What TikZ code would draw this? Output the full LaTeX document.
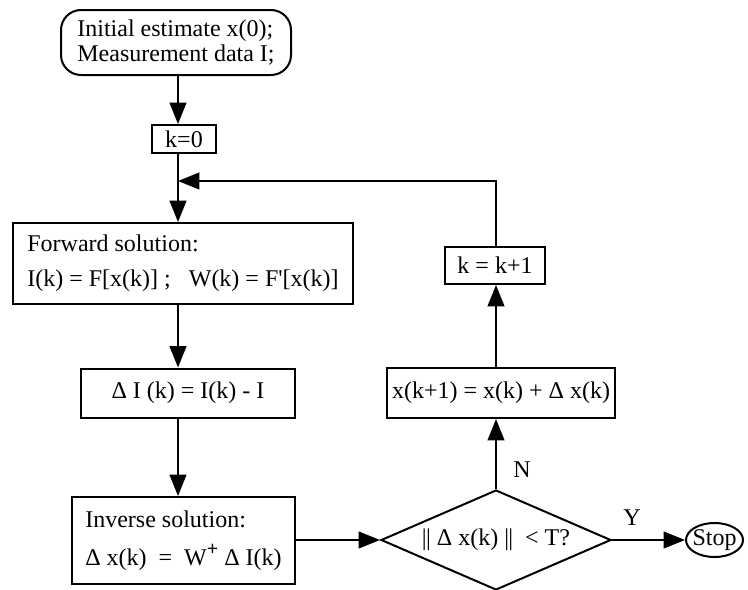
\documentclass[tikz,border=0pt]{standalone}
\usepackage{fontspec}
\setmainfont{Liberation Serif}
\usetikzlibrary{shapes.geometric,arrows.meta}
\begin{document}
\begin{tikzpicture}[x=0.75pt,y=-0.75pt,
  txt/.style={font=\fontsize{18}{18.75}\selectfont},
  box/.style={draw, line width=1.5pt, inner sep=0pt, align=left, txt},
  arr/.style={line width=1.5pt, -{Triangle[length=16pt,width=12.5pt]}},
  ln/.style={line width=1.5pt},
  lbl/.style={txt, inner sep=0pt}]
\useasboundingbox (0,0) rectangle (748,589);
\coordinate (colx) at (178,0);
\coordinate (lp) at (496,181);
\node[box, rounded corners=15pt, minimum width=172.5pt, minimum height=48.75pt] (start) at (176,42.5)
  {Initial estimate x(0);\\Measurement data I;};
\node[box, minimum width=48pt, minimum height=21pt, align=center] (k0) at (184,139) {k=0};
\node[box, minimum width=255pt, minimum height=60.75pt] (fwd) at (183,263.5)
  {Forward solution:\\[7.5pt]I(k) = F[x(k)] ;~~~W(k) = F\textquotesingle[x(k)]};
\node[box, minimum width=160.5pt, minimum height=36.75pt, align=center] (dI) at (188,393)
  {Δ I (k) = I(k) - I};
\node[box, minimum width=167.25pt, minimum height=65.25pt] (inv) at (183.5,540.5)
  {Inverse solution:\\[9.75pt]Δ x(k) ~= ~W\raisebox{0.42em}{\fontsize{15}{15}\selectfont\textbf{+}} Δ I(k)};
\node[draw, diamond, shape aspect=2.3, minimum width=172.5pt, minimum height=75pt, inner sep=0pt, line width=1.5pt, txt] (dia) at (496,540)
  {|\kern-0.5pt| Δ x(k) |\kern-0.5pt|~ < T?};
\node[draw, ellipse, line width=1.5pt, minimum width=42.75pt, minimum height=25.5pt, inner sep=0pt, txt] (stop) at (714.5,540)
  {\makebox[0pt]{Stop}};
\node[box, minimum width=171pt, minimum height=37.5pt, align=center] (xk) at (501,393)
  {x(k+1) = x(k) + Δ x(k)};
\node[box, minimum width=75pt, minimum height=27.75pt, align=center] (kk) at (495,265.5)
  {k = k+1};
\node[lbl] (nlab) at (522,470) {N};
\node[lbl] (ylab) at (632,518) {Y};
\draw[arr] (start.south -| colx) -- (k0.north -| colx);
\draw[arr] (k0.south -| colx) -- (fwd.north -| colx);
\draw[arr] (fwd.south -| colx) -- (dI.north -| colx);
\draw[arr] (dI.south -| colx) -- (inv.north -| colx);
\draw[arr] (inv.east |- dia.west) -- (dia.west);
\draw[arr] (dia.east) -- (stop.west);
\draw[arr] (dia.north) -- (xk.south -| dia.north);
\draw[arr] (xk.north -| dia.north) -- (kk.south -| dia.north);
\draw[arr] (kk.north -| lp) -- (lp) -- (colx |- lp);
\end{tikzpicture}
\end{document}
